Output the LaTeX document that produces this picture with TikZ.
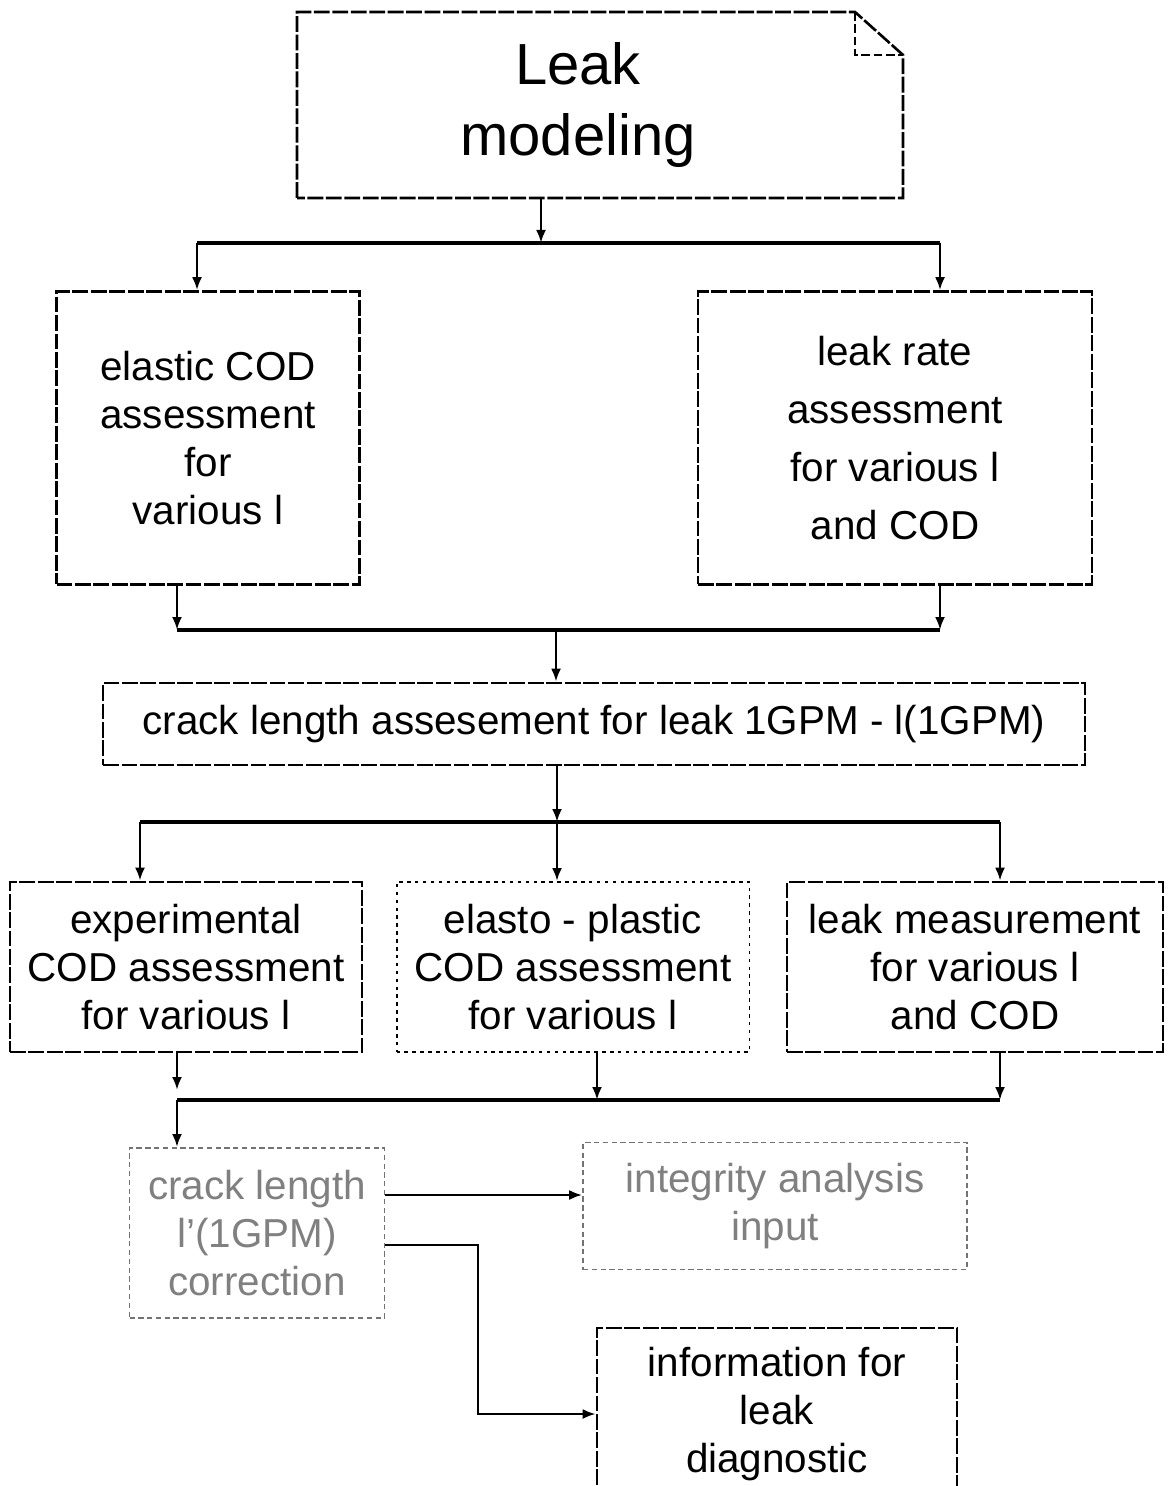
\documentclass[tikz,border=0pt]{standalone}
\usepackage{fontspec}
\setmainfont{Liberation Sans}
\usetikzlibrary{arrows.meta, positioning}

\begin{document}
\begin{tikzpicture}[x=0.02cm, y=-0.02cm,
        box/.style={draw, line width=1.5pt, dash pattern=on 9pt off 1.5pt,
                    align=center, inner sep=0pt,
                    font=\fontsize{23}{27.3}\selectfont},
        dotbox/.style={box, line width=1.1pt, dash pattern=on 2pt off 2.5pt},
        faint/.style={box, line width=1.1pt, draw=black!55, text=black!50,
                      dash pattern=on 3pt off 2pt},
        bus/.style={line width=2.1pt},
        arr/.style={-{Latex[length=2.6mm, width=2mm]}, line width=1.6pt}
    ]
    \useasboundingbox (0,0) rectangle (1167,1486);

    % title box with folded corner
    \node[align=center, inner sep=0pt, font=\fontsize{33}{40}\selectfont,
          minimum height=3.72cm] (top) at (578,105) {Leak\\modeling};
    \draw[line width=1.5pt, dash pattern=on 9pt off 1.5pt]
        (297,198) -- (297,12) -- (855,12) -- (903,55) -- (903,198) -- cycle;
    \draw[line width=1.2pt, dash pattern=on 5pt off 2pt]
        (855,12) |- (903,55);

    % first level
    \node[box, minimum width=6.06cm, minimum height=5.86cm] (cod) at (208,438) {elastic COD\\assessment\\for\\various l};
    \node[box, font=\fontsize{23}{33}\selectfont, minimum width=7.88cm, minimum height=5.86cm] (rate) at (895,438) {leak rate\\assessment\\for various l\\and COD};

    \node[box, minimum width=19.64cm, minimum height=1.64cm] (crack) at (594,724) {crack length assesement for leak 1GPM - l(1GPM)};

    % second level
    \node[box, minimum width=7.04cm, minimum height=3.4cm] (expcod) at (186,967) {experimental\\COD assessment\\for various l};
    \node[dotbox, minimum width=7.06cm, minimum height=3.4cm] (epcod) at (573,967) {elasto - plastic\\COD assessment\\for various l};
    \node[box, minimum width=7.52cm, minimum height=3.4cm] (meas) at (975,967) {leak measurement\\for various l\\and COD};

    % results
    \node[faint, minimum width=5.1cm, minimum height=3.4cm] (corr) at (257,1233) {crack length\\l'(1GPM)\\correction};
    \node[faint, minimum width=7.68cm, minimum height=2.54cm] (integ) at (775,1206) {integrity analysis\\input};
    \node[box, minimum width=7.2cm, minimum height=3.44cm] (info) at (777,1414) {information for\\leak\\diagnostic};

    % bus points
    \coordinate (b1) at (541,243);
    \coordinate (b1l) at (197,243);
    \coordinate (b1r) at (940,243);
    \coordinate (b2) at (556,630);
    \coordinate (b2l) at (177,630);
    \coordinate (b2r) at (940,630);
    \coordinate (b3) at (557,822);
    \coordinate (b3l) at (140,822);
    \coordinate (b3r) at (1000,822);
    \coordinate (b4l) at (177,1100);
    \coordinate (b4m) at (597,1100);
    \coordinate (b4r) at (1000,1100);
    \coordinate (k) at (478,1245);

    \draw[arr] (top.south -| b1) -- (b1);
    \draw[bus] (b1l) -- (b1r);
    \draw[arr] (b1l) -- (b1l |- cod.north);
    \draw[arr] (b1r) -- (b1r |- rate.north);

    \draw[arr] (b2l |- cod.south) -- (b2l);
    \draw[arr] (b2r |- rate.south) -- (b2r);
    \draw[bus] (b2l) -- (b2r);
    \draw[arr] (b2) -- (b2 |- crack.north);

    \draw[arr] (b3 |- crack.south) -- (b3);
    \draw[bus] (b3l) -- (b3r);
    \draw[arr] (b3l) -- (b3l |- expcod.north);
    \draw[arr] (b3) -- (b3 |- epcod.north);
    \draw[arr] (b3r) -- (b3r |- meas.north);

    \draw[arr] (b4l |- expcod.south) -- ([yshift=0.2cm]b4l);
    \draw[arr] (b4m |- epcod.south) -- (b4m);
    \draw[arr] (b4r |- meas.south) -- (b4r);
    \draw[bus] (b4l) -- (b4r);
    \draw[arr] (b4l) -- (b4l |- corr.north);

    \draw[arr, line width=1.2pt] ([yshift=0.76cm]corr.east) -- ([yshift=0.76cm]corr.east -| integ.west);
    \draw[arr] (corr.east |- k) -- (k) |- (info.west);
\end{tikzpicture}
\end{document}
